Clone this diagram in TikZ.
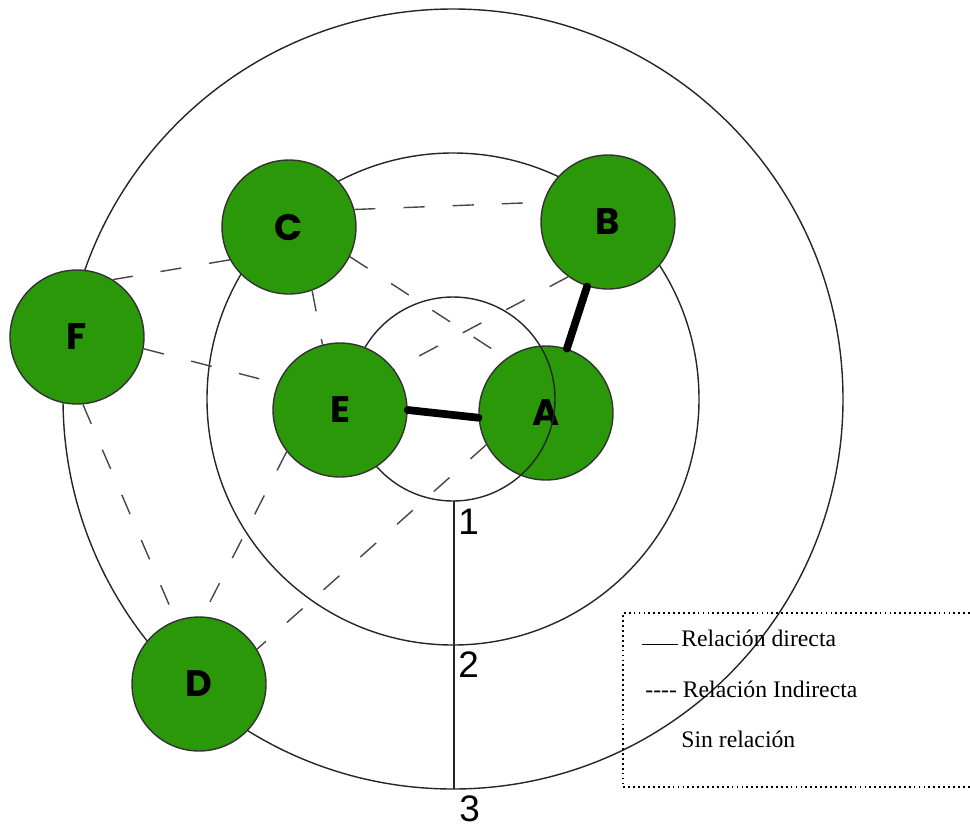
\documentclass[tikz,border=0pt]{standalone}
\usepackage{fontspec}
\setmainfont{Liberation Serif}
\newfontfamily\levelfont{Liberation Sans}
\newfontfamily\nodefont{Poppins}
\usepackage{xcolor}
\usetikzlibrary{positioning}
\definecolor{actorgreen}{RGB}{43,152,9}

\begin{document}
\begin{tikzpicture}[
    x=0.02cm, y=-0.02cm,
    ring/.style={draw=black!85, line width=0.8pt},
    actor/.style={circle, draw=black!80, fill=actorgreen, line width=0.8pt, minimum size=2.68cm, inner sep=0pt, font=\nodefont\bfseries\fontsize{21}{21}\selectfont},
    direct/.style={line width=4.4pt, line cap=round},
    indirect/.style={draw=black!72, line width=0.8pt, dash pattern=on 12pt off 16pt},
    level/.style={anchor=west, inner sep=0pt, font=\levelfont\fontsize{21}{21}\selectfont},
    legend/.style={anchor=base west, inner sep=0pt, font=\fontsize{13.5}{13.5}\selectfont}
]
\useasboundingbox (0,0) rectangle (970,829);

% rings
\coordinate (ctr) at (453,399);
\draw [ring] (ctr) circle [radius=102];
\draw [ring] (ctr) circle [radius=246];
\draw [ring] (ctr) circle [radius=390];
\coordinate (rone) at (454,501);
\coordinate (rthree) at (454,789);
\draw [ring] (rone) -- (rthree);

\node (lone) [level] at (458,522) {1};
\node (ltwo) [level] at (458,665) {2};
\node (lthree) [level] at (459,809) {3};

% actors
\node (C) [actor] at (289,227) {C};
\node (B) [actor] at (608,222) {B};
\node (F) [actor] at (77,337) {F};
\node (E) [actor] at (340,410) {E};
\node (A) [actor] at (546,413) {A};
\node (D) [actor] at (199,684) {D};

% inner ring shows over A
\begin{scope}
  \clip (A.center) circle [radius=67];
  \draw [ring] (ctr) circle [radius=102];
\end{scope}

% relations
\draw [direct] (E.east) -- (A.184);
\draw [direct] (B) -- (A);
\draw [indirect] (C.15) -- (B.163);
\draw [indirect] (C.209) -- (F.58);
\draw [indirect] (F.-10) -- (E.157);
\draw [indirect] (C.-70) -- (E.105);
\draw [indirect] (C.-26) -- (A.126);
\draw [indirect] (B.234) -- (E.37);
\draw [indirect] (A.208) -- (D.31);
\draw [indirect] (E.218) -- (D.87);
\draw [indirect] (F.-85) -- (D.110);

% legend
\draw [line width=1pt, dash pattern=on 1pt off 1.8pt] (970,613) -- (623,613) -- (623,787) -- (970,787);
\node (ldirect) [legend] at (642,646) {\rule[0.1ex]{0.72cm}{0.7pt}\hspace{0.06cm}Relación directa};
\node (lindirect) [legend] at (645,697) {-{}-{}-{}- Relación Indirecta};
\node (lnone) [legend] at (681,747) {Sin relación};

\end{tikzpicture}
\end{document}
